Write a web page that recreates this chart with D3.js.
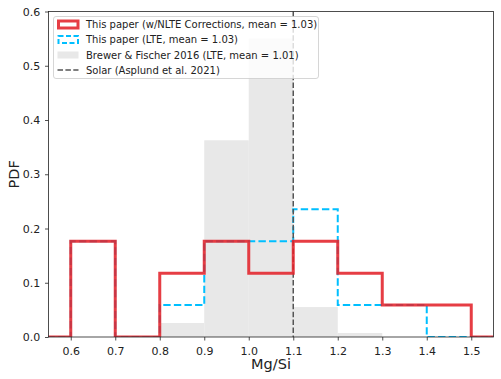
<!DOCTYPE html>
<html><head><meta charset="utf-8">
<script src="https://cdn.jsdelivr.net/npm/d3@7"></script>
<style>body{margin:0;background:#fff}svg{font-family:"DejaVu Sans",sans-serif}</style>
</head><body><svg id="c" width="501" height="379"></svg>
<script>
const binEdges = [0.5,0.6,0.7,0.8,0.9,1.0,1.1,1.2,1.3,1.4,1.5,1.6];
const nlteValues = [0,3/17,0,2/17,3/17,2/17,3/17,2/17,1/17,1/17,0];
const lteValues  = [0,3/17,0,1/17,3/17,3/17,4/17,1/17,1/17,0,0];
const brewerValues = [0,0,0,0.0258,0.3626,0.5503,0.0552,0.0074,0,0,0];
const solarValue = 1.1;
const xTicks = [0.6,0.7,0.8,0.9,1.0,1.1,1.2,1.3,1.4,1.5];
const yTicks = [0.0,0.1,0.2,0.3,0.4,0.5,0.6];
const legendLabels = ["This paper (w/NLTE Corrections, mean = 1.03)","This paper (LTE, mean = 1.03)","Brewer & Fischer 2016 (LTE, mean = 1.01)","Solar (Asplund et al. 2021)"];

const svg = d3.select("#c");
const L=48.5,R=493.5,T=11.5,B=337;
const x = d3.scaleLinear().domain([0.55,1.55]).range([L,R]);
const y = d3.scaleLinear().domain([0,0.6]).range([B,T]);

svg.append("defs").append("clipPath").attr("id","clip").append("rect")
  .attr("x",L).attr("y",T-5).attr("width",R-L).attr("height",B-T+5);
const g = svg.append("g").attr("clip-path","url(#clip)");

g.selectAll("rect.b").data(brewerValues).enter().append("rect")
  .attr("x",(d,i)=>x(binEdges[i])).attr("width",(d,i)=>x(binEdges[i+1])-x(binEdges[i]))
  .attr("y",d=>y(d)).attr("height",d=>B-y(d)).attr("fill","#e8e8e8");

function stepPath(vals){
  const p = d3.path();
  p.moveTo(x(binEdges[0]),y(0));
  vals.forEach((v,i)=>{p.lineTo(x(binEdges[i]),y(v));p.lineTo(x(binEdges[i+1]),y(v));});
  p.lineTo(x(binEdges[binEdges.length-1]),y(0));
  return p.toString();
}
g.append("path").attr("d",stepPath(lteValues)).attr("fill","none")
  .attr("stroke","#00bfff").attr("stroke-width",2).attr("stroke-dasharray","7.4,3.2");
g.append("line").attr("x1",x(solarValue)).attr("x2",x(solarValue)).attr("y1",T).attr("y2",B)
  .attr("stroke","#555").attr("stroke-width",1.5).attr("stroke-dasharray","5.5,2.4");
g.append("path").attr("d",stepPath(nlteValues)).attr("fill","none")
  .attr("stroke","#e3222a").attr("stroke-opacity",0.88).attr("stroke-width",3);

const xa = svg.append("g").attr("transform",`translate(0,${B})`)
  .call(d3.axisBottom(x).tickValues(xTicks).tickFormat(d3.format(".1f")).tickSize(3.5).tickSizeOuter(0));
const ya = svg.append("g").attr("transform",`translate(${L},0)`)
  .call(d3.axisLeft(y).tickValues(yTicks).tickFormat(d3.format(".1f")).tickSize(3.5).tickSizeOuter(0));
[xa,ya].forEach(a=>{a.selectAll("text").attr("font-size",11).attr("fill","#222").attr("font-family","DejaVu Sans");
  a.select(".domain").remove(); a.selectAll("line").attr("stroke","#222").attr("stroke-width",0.8);});
xa.selectAll("text").attr("dy","1.0em");
ya.selectAll("text").attr("dx","-0.15em");
svg.append("rect").attr("x",L).attr("y",T).attr("width",R-L).attr("height",B-T)
  .attr("fill","none").attr("stroke","#222").attr("stroke-width",0.8);

svg.append("text").attr("x",(L+R)/2).attr("y",369).attr("text-anchor","middle")
  .attr("font-size",14.5).attr("fill","#222").text("Mg/Si");
svg.append("text").attr("transform",`translate(19,${(T+B)/2}) rotate(-90)`).attr("text-anchor","middle")
  .attr("font-size",14.5).attr("fill","#222").text("PDF");

const lg = svg.append("g");
lg.append("rect").attr("x",53.5).attr("y",16.5).attr("width",265).attr("height",62).attr("rx",2.5)
  .attr("fill","#fff").attr("fill-opacity",0.8).attr("stroke","#ccc").attr("stroke-width",0.8);
const rows=[24.5,39.5,55,70];
lg.append("rect").attr("x",58.5).attr("y",rows[0]-3.5).attr("width",19.5).attr("height",7)
  .attr("fill","none").attr("stroke","#e3222a").attr("stroke-opacity",0.88).attr("stroke-width",3);
lg.append("rect").attr("x",58.5).attr("y",rows[1]-3.5).attr("width",19.5).attr("height",7)
  .attr("fill","none").attr("stroke","#00bfff").attr("stroke-width",2).attr("stroke-dasharray","5,2.5");
lg.append("rect").attr("x",57.5).attr("y",rows[2]-3.5).attr("width",21).attr("height",7).attr("fill","#e8e8e8");
lg.append("line").attr("x1",57.5).attr("x2",78.5).attr("y1",rows[3]).attr("y2",rows[3])
  .attr("stroke","#555").attr("stroke-width",1.5).attr("stroke-dasharray","5.5,2.4");
legendLabels.forEach((t,i)=>lg.append("text").attr("x",86).attr("y",rows[i]).attr("dy","0.35em")
  .attr("font-size",10).attr("fill","#222").text(t));
</script></body></html>
